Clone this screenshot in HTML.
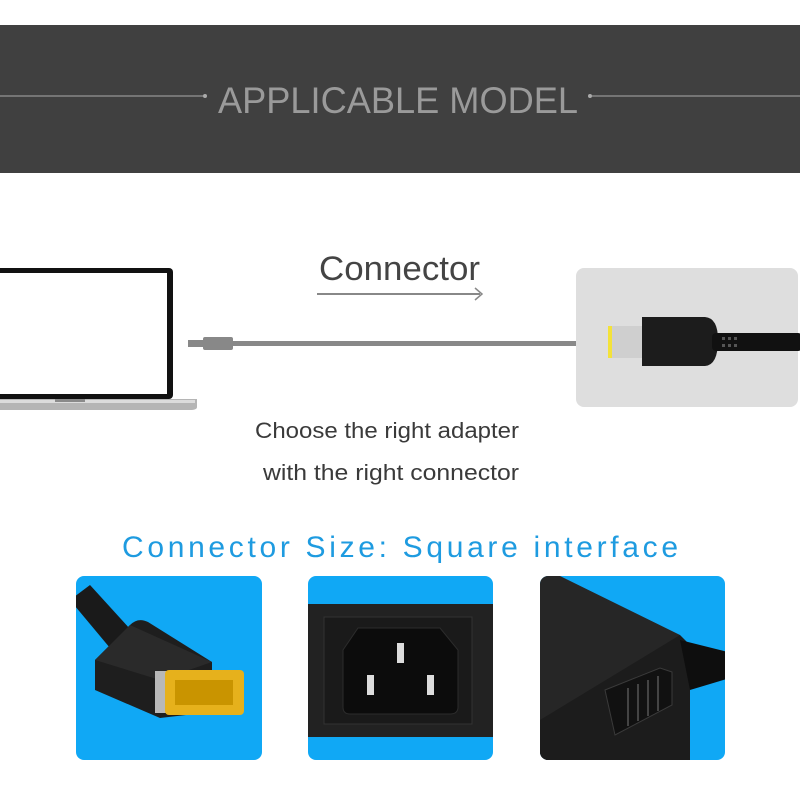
<!DOCTYPE html>
<html><head><style>html,body{margin:0;padding:0;background:#fff;width:800px;height:800px;overflow:hidden}</style></head>
<body>
<svg width="800" height="800" viewBox="0 0 800 800" xmlns="http://www.w3.org/2000/svg" font-family="Liberation Sans, DejaVu Sans, sans-serif">
<rect width="800" height="800" fill="#fff"/>
<!-- header -->
<rect x="0" y="25" width="800" height="148" fill="#404040"/>
<line x1="0" y1="96" x2="204" y2="96" stroke="#aaa" stroke-width="1"/>
<circle cx="205" cy="96" r="2" fill="#aaa"/>
<line x1="592" y1="96" x2="800" y2="96" stroke="#aaa" stroke-width="1"/>
<circle cx="590" cy="96" r="2" fill="#aaa"/>
<text x="218" y="113" font-size="37" fill="#9a9a9a" textLength="360" lengthAdjust="spacingAndGlyphs">APPLICABLE MODEL</text>

<!-- laptop -->
<rect x="-10" y="268" width="183" height="131" rx="4" fill="#111"/>
<rect x="-10" y="273" width="177" height="121" fill="#fff"/>
<path d="M-10 399 H197 V407 Q197 410 190 410 H-10 Z" fill="#b5b5b5"/>
<rect x="-10" y="400" width="205" height="3" fill="#dcdcdc"/>
<rect x="55" y="399" width="30" height="3" fill="#8a8a8a"/>

<!-- connector text and arrow -->
<text x="319" y="280" font-size="34" fill="#444" textLength="161" lengthAdjust="spacingAndGlyphs">Connector</text>
<line x1="317" y1="294" x2="480" y2="294" stroke="#888" stroke-width="2"/>
<path d="M475 288 L482 294 L475 300" fill="none" stroke="#888" stroke-width="1.5"/>

<!-- cable -->
<rect x="188" y="340" width="16" height="7" fill="#888"/>
<rect x="203" y="337" width="30" height="13" rx="2" fill="#888"/>
<rect x="232" y="341" width="346" height="5" fill="#888"/>

<!-- right card -->
<rect x="576" y="268" width="222" height="139" rx="8" fill="#dedede"/>
<rect x="608" y="326" width="38" height="32" fill="#cfcfcf"/>
<rect x="608" y="326" width="4" height="32" fill="#f3e23a"/>
<path d="M642 317 H705 Q718 318 718 340 Q718 365 705 366 H642 Z" fill="#1c1c1c"/>
<rect x="712" y="333" width="90" height="18" rx="4" fill="#111"/>
<g fill="#555"><rect x="722" y="337" width="3" height="3"/><rect x="728" y="337" width="3" height="3"/><rect x="734" y="337" width="3" height="3"/><rect x="722" y="344" width="3" height="3"/><rect x="728" y="344" width="3" height="3"/><rect x="734" y="344" width="3" height="3"/></g>

<text x="387" y="438" font-size="22" fill="#3a3a3a" text-anchor="middle" textLength="264" lengthAdjust="spacingAndGlyphs">Choose the right adapter</text>
<text x="391" y="480" font-size="22" fill="#3a3a3a" text-anchor="middle" textLength="256" lengthAdjust="spacingAndGlyphs">with the right connector</text>

<text x="122" y="557" font-size="30" fill="#1e9be0" textLength="558" lengthAdjust="spacing" letter-spacing="2">Connector Size:  Square interface</text>

<!-- panel 1 -->
<clipPath id="c1"><rect x="76" y="576" width="186" height="184" rx="8"/></clipPath>
<rect x="76" y="576" width="186" height="184" rx="8" fill="#10a8f5"/>
<g clip-path="url(#c1)">
<path d="M70 600 L90 585 L140 640 L120 660 Z" fill="#1a1a1a"/>
<path d="M95 660 L130 625 Q138 617 148 622 L212 662 L212 712 L160 718 L95 690 Z" fill="#1e1e1e"/>
<path d="M130 625 L212 662 L160 680 L95 660 Z" fill="#2a2a2a"/>
<rect x="155" y="671" width="45" height="42" fill="#b8b8b8"/>
<rect x="165" y="670" width="79" height="45" rx="4" fill="#e6b11c"/>
<rect x="175" y="680" width="58" height="25" fill="#c99400"/>
</g>

<!-- panel 2 -->
<clipPath id="c2"><rect x="308" y="576" width="185" height="184" rx="8"/></clipPath>
<rect x="308" y="576" width="185" height="184" rx="8" fill="#10a8f5"/>
<g clip-path="url(#c2)">
<rect x="308" y="604" width="185" height="133" fill="#222"/>
<rect x="324" y="617" width="148" height="107" fill="#1a1a1a" stroke="#333"/>
<path d="M343 650 L358 628 H440 L458 650 V707 Q458 714 450 714 H350 Q343 714 343 707 Z" fill="#0c0c0c" stroke="#2c2c2c"/>
<rect x="397" y="643" width="7" height="20" fill="#ddd"/>
<rect x="367" y="675" width="7" height="20" fill="#ddd"/>
<rect x="427" y="675" width="7" height="20" fill="#ddd"/>
</g>

<!-- panel 3 -->
<clipPath id="c3"><rect x="540" y="576" width="185" height="184" rx="8"/></clipPath>
<rect x="540" y="576" width="185" height="184" rx="8" fill="#10a8f5"/>
<g clip-path="url(#c3)">
<path d="M540 576 H560 L680 635 L680 760 H540 Z" fill="#262626"/>
<path d="M540 720 L680 635 L690 645 L690 760 H540 Z" fill="#1c1c1c"/>
<path d="M680 640 L740 655 L740 675 L690 690 Z" fill="#0e0e0e"/>
<path d="M605 690 L660 668 L672 672 L672 705 L615 735 Z" fill="#111" stroke="#3a3a3a"/>
<g stroke="#444" stroke-width="2"><line x1="628" y1="688" x2="628" y2="726"/><line x1="638" y1="684" x2="638" y2="721"/><line x1="648" y1="680" x2="648" y2="716"/><line x1="658" y1="676" x2="658" y2="711"/></g>
</g>
</svg>
</body></html>
